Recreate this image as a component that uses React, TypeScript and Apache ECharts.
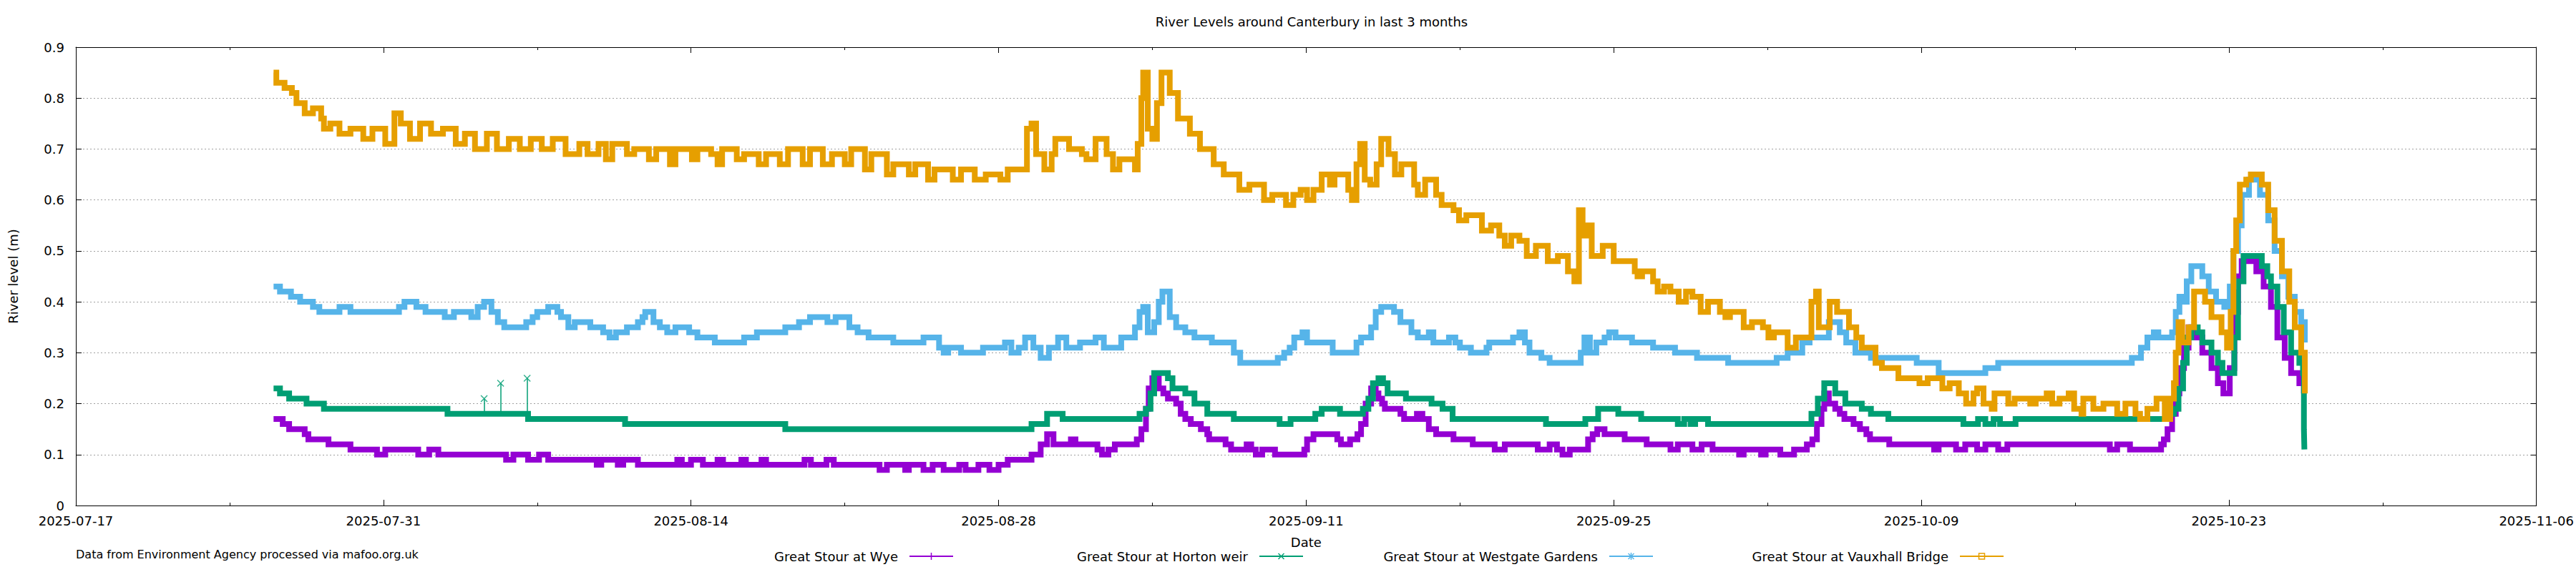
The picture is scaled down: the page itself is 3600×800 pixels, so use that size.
import React, { useEffect, useRef } from "react";
import * as echarts from "echarts";

const TITLE = "River Levels around Canterbury in last 3 months";
const X_AXIS_NAME = "Date";
const Y_AXIS_NAME = "River level (m)";
const FOOTER = "Data from Environment Agency processed via mafoo.org.uk";
const AXIS_DAYS = 112; // 2025-07-17 .. 2025-11-06
const TICK_DAYS = 14;
const Y_MAX = 0.9;
const Y_STEP = 0.1;
const SERIES_NAMES = [
  "Great Stour at Wye",
  "Great Stour at Horton weir",
  "Great Stour at Westgate Gardens",
  "Great Stour at Vauxhall Bridge",
];
const SERIES_COLORS = ["#9400d3", "#009e73", "#56b4e9", "#e69f00"];

type Reading = [string, number];

// readings: "MM-DD HH[:MM]" (2025) and level in metres, at each change of level
const wye: Reading[] = [
  ["07-26 00", 0.17], ["07-26 10", 0.16], ["07-26 17", 0.15], ["07-27 10", 0.14], ["07-27 14", 0.13],
  ["07-28 12", 0.12], ["07-29 12", 0.11], ["07-30 17", 0.10], ["07-31 02", 0.11], ["08-01 14", 0.10],
  ["08-02 02", 0.11], ["08-02 12", 0.10], ["08-05 14", 0.09], ["08-05 22", 0.10], ["08-06 14", 0.09],
  ["08-07 02", 0.10], ["08-07 12", 0.09], ["08-09 17", 0.08], ["08-09 22", 0.09], ["08-10 16", 0.08],
  ["08-10 22", 0.09], ["08-11 14", 0.08], ["08-13 09", 0.09], ["08-13 14", 0.08], ["08-14 00", 0.09],
  ["08-14 13", 0.08], ["08-15 05", 0.09], ["08-15 11", 0.08], ["08-16 07", 0.09], ["08-16 12", 0.08],
  ["08-17 05", 0.09], ["08-17 10", 0.08], ["08-19 04", 0.09], ["08-19 11", 0.08], ["08-20 04", 0.09],
  ["08-20 12", 0.08], ["08-22 14", 0.07], ["08-22 22", 0.08], ["08-23 18", 0.07], ["08-23 22", 0.08],
  ["08-24 14", 0.07], ["08-25 00", 0.08], ["08-25 12", 0.07], ["08-26 05", 0.08], ["08-26 12", 0.07],
  ["08-27 02", 0.08], ["08-27 14", 0.07], ["08-28 00", 0.08], ["08-28 10", 0.09], ["08-29 12", 0.10],
  ["08-29 22", 0.12], ["08-30 05", 0.14], ["08-30 12", 0.12], ["08-31 07", 0.13], ["08-31 12", 0.12],
  ["09-01 12", 0.11], ["09-01 17", 0.10], ["09-02 00", 0.11], ["09-02 07", 0.12], ["09-03 07", 0.13],
  ["09-03 12", 0.15], ["09-03 17", 0.19], ["09-03 20", 0.23], ["09-04 00", 0.25], ["09-04 07", 0.23],
  ["09-04 12", 0.22], ["09-04 17", 0.21], ["09-05 02", 0.20], ["09-05 07", 0.18], ["09-05 12", 0.17],
  ["09-05 18", 0.16], ["09-06 05", 0.15], ["09-06 12", 0.14], ["09-06 14", 0.13], ["09-07 08", 0.12],
  ["09-07 14", 0.11], ["09-08 07", 0.12], ["09-08 12", 0.11], ["09-08 17", 0.10], ["09-09 00", 0.11],
  ["09-09 14", 0.10], ["09-10 22", 0.11], ["09-11 01", 0.13], ["09-11 08", 0.14], ["09-12 10", 0.13],
  ["09-12 14", 0.12], ["09-13 00", 0.13], ["09-13 08", 0.14], ["09-13 12", 0.16], ["09-13 17", 0.20],
  ["09-13 23", 0.23], ["09-14 04", 0.22], ["09-14 07", 0.21], ["09-14 11", 0.20], ["09-14 14", 0.19],
  ["09-15 07", 0.18], ["09-15 11", 0.17], ["09-16 01", 0.18], ["09-16 07", 0.17], ["09-16 14", 0.15],
  ["09-16 22", 0.14], ["09-17 17", 0.13], ["09-18 14", 0.12], ["09-19 14", 0.11], ["09-20 01", 0.12],
  ["09-21 13", 0.11], ["09-22 02", 0.12], ["09-22 10", 0.11], ["09-22 16", 0.10], ["09-23 00", 0.11],
  ["09-23 20", 0.13], ["09-24 01", 0.14], ["09-24 06", 0.15], ["09-24 14", 0.14], ["09-25 12", 0.13],
  ["09-26 12", 0.12], ["09-27 14", 0.11], ["09-27 22", 0.12], ["09-28 14", 0.11], ["09-29 00", 0.12],
  ["09-29 12", 0.11], ["09-30 17", 0.10], ["09-30 22", 0.11], ["10-01 17", 0.10], ["10-01 22", 0.11],
  ["10-02 14", 0.10], ["10-03 05", 0.11], ["10-03 19", 0.12], ["10-04 01", 0.13], ["10-04 06", 0.16],
  ["10-04 11", 0.19], ["10-04 14", 0.22], ["10-04 19", 0.20], ["10-05 02", 0.19], ["10-05 07", 0.18],
  ["10-05 12", 0.17], ["10-05 22", 0.16], ["10-06 05", 0.15], ["10-06 12", 0.14], ["10-06 16", 0.13],
  ["10-07 13", 0.12], ["10-09 14", 0.11], ["10-09 19", 0.12], ["10-10 14", 0.11], ["10-11 00", 0.12],
  ["10-11 13", 0.11], ["10-11 22", 0.12], ["10-12 12", 0.11], ["10-12 22", 0.12], ["10-17 14", 0.11],
  ["10-17 22", 0.12], ["10-18 12", 0.11], ["10-19 22", 0.12], ["10-20 01", 0.13], ["10-20 05", 0.15],
  ["10-20 10", 0.18], ["10-20 14", 0.22], ["10-20 18", 0.27], ["10-20 23", 0.31], ["10-21 04", 0.35],
  ["10-21 10", 0.33], ["10-21 19", 0.30], ["10-22 05", 0.27], ["10-22 12", 0.24], ["10-22 18", 0.22],
  ["10-23 01", 0.27], ["10-23 06", 0.38], ["10-23 10", 0.45], ["10-23 14", 0.48], ["10-24 06", 0.46],
  ["10-24 14", 0.43], ["10-24 22", 0.39], ["10-25 05", 0.33], ["10-25 13", 0.29], ["10-25 20", 0.26],
  ["10-26 05", 0.24], ["10-26 10", 0.22],
];

const hortonWeir: Reading[] = [
  ["07-26 00", 0.23], ["07-26 07", 0.22], ["07-26 17", 0.21], ["07-27 12", 0.20], ["07-28 07", 0.19],
  ["08-02 22", 0.18], ["08-06 14", 0.17], ["08-11 00", 0.16], ["08-18 07", 0.15], ["08-29 12", 0.16],
  ["08-30 05", 0.18], ["08-30 22", 0.17], ["09-03 10", 0.18], ["09-03 17", 0.19], ["09-03 22", 0.22],
  ["09-04 02", 0.26], ["09-04 17", 0.25], ["09-04 22", 0.23], ["09-05 12", 0.22], ["09-05 22", 0.20],
  ["09-06 12", 0.18], ["09-07 17", 0.17], ["09-09 19", 0.16], ["09-10 07", 0.17], ["09-11 10", 0.18],
  ["09-11 17", 0.19], ["09-12 13", 0.18], ["09-13 14", 0.19], ["09-13 20", 0.21], ["09-14 01", 0.24],
  ["09-14 07", 0.25], ["09-14 12", 0.24], ["09-14 17", 0.22], ["09-15 13", 0.21], ["09-16 17", 0.20],
  ["09-17 05", 0.19], ["09-17 16", 0.17], ["09-21 22", 0.16], ["09-23 17", 0.17], ["09-24 07", 0.19],
  ["09-25 05", 0.18], ["09-26 06", 0.17], ["09-27 22", 0.16], ["09-28 05", 0.17], ["09-28 12", 0.16],
  ["09-28 17", 0.17], ["09-29 07", 0.16], ["10-04 00", 0.18], ["10-04 07", 0.21], ["10-04 14", 0.24],
  ["10-05 02", 0.22], ["10-05 13", 0.20], ["10-06 07", 0.19], ["10-06 17", 0.18], ["10-07 12", 0.17],
  ["10-10 22", 0.16], ["10-11 14", 0.17], ["10-11 22", 0.16], ["10-12 07", 0.17], ["10-12 14", 0.16],
  ["10-13 07", 0.17], ["10-20 07", 0.18], ["10-20 12", 0.19], ["10-20 17", 0.23], ["10-20 22", 0.28],
  ["10-21 02", 0.33], ["10-21 07", 0.35], ["10-21 14", 0.34], ["10-21 19", 0.32], ["10-22 05", 0.30],
  ["10-22 12", 0.28], ["10-22 17", 0.26], ["10-23 06", 0.33], ["10-23 10", 0.44], ["10-23 16", 0.49],
  ["10-24 12", 0.47], ["10-24 18", 0.45], ["10-24 22", 0.43], ["10-25 05", 0.39], ["10-25 12", 0.34],
  ["10-25 20", 0.30], ["10-26 05", 0.28], ["10-26 09", 0.26], ["10-26 10", 0.15], ["10-26 10:30", 0.11],
];

// isolated one-reading spikes at Horton weir: time, level before, spike level
const hortonSpikes: [string, number, number][] = [
  ["08-04 14", 0.18, 0.21],
  ["08-05 08", 0.18, 0.24],
  ["08-06 13", 0.18, 0.25],
];

const westgateGardens: Reading[] = [
  ["07-26 00", 0.43], ["07-26 07", 0.42], ["07-26 19", 0.41], ["07-27 05", 0.40], ["07-27 19", 0.39],
  ["07-28 02", 0.38], ["07-29 00", 0.39], ["07-29 12", 0.38], ["07-31 17", 0.39], ["07-31 23", 0.40],
  ["08-01 12", 0.39], ["08-01 22", 0.38], ["08-02 19", 0.37], ["08-03 05", 0.38], ["08-04 00", 0.37],
  ["08-04 07", 0.39], ["08-04 14", 0.40], ["08-04 22", 0.38], ["08-05 05", 0.36], ["08-05 12", 0.35],
  ["08-06 12", 0.36], ["08-06 19", 0.37], ["08-07 00", 0.38], ["08-07 12", 0.39], ["08-07 22", 0.38],
  ["08-08 02", 0.37], ["08-08 10", 0.35], ["08-08 17", 0.36], ["08-09 10", 0.35], ["08-10 00", 0.34],
  ["08-10 07", 0.33], ["08-10 14", 0.34], ["08-11 02", 0.35], ["08-11 14", 0.36], ["08-11 19", 0.37],
  ["08-11 22", 0.38], ["08-12 07", 0.36], ["08-12 14", 0.35], ["08-12 22", 0.34], ["08-13 07", 0.35],
  ["08-13 22", 0.34], ["08-14 07", 0.33], ["08-15 02", 0.32], ["08-16 10", 0.33], ["08-17 00", 0.34],
  ["08-18 07", 0.35], ["08-18 22", 0.36], ["08-19 10", 0.37], ["08-20 05", 0.36], ["08-20 14", 0.37],
  ["08-21 05", 0.35], ["08-21 14", 0.34], ["08-22 02", 0.33], ["08-23 05", 0.32], ["08-24 14", 0.33],
  ["08-25 07", 0.31], ["08-25 12", 0.30], ["08-25 17", 0.31], ["08-26 07", 0.30], ["08-27 07", 0.31],
  ["08-28 07", 0.32], ["08-28 14", 0.30], ["08-28 22", 0.31], ["08-29 05", 0.33], ["08-29 14", 0.31],
  ["08-29 22", 0.29], ["08-30 07", 0.31], ["08-30 17", 0.33], ["08-31 02", 0.31], ["08-31 17", 0.32],
  ["09-01 10", 0.33], ["09-01 19", 0.31], ["09-02 14", 0.33], ["09-03 05", 0.35], ["09-03 10", 0.38],
  ["09-03 14", 0.39], ["09-03 19", 0.34], ["09-04 02", 0.36], ["09-04 07", 0.40], ["09-04 11", 0.42],
  ["09-04 19", 0.37], ["09-05 02", 0.35], ["09-05 12", 0.34], ["09-05 22", 0.33], ["09-06 17", 0.32],
  ["09-07 17", 0.30], ["09-08 00", 0.28], ["09-09 17", 0.29], ["09-10 00", 0.30], ["09-10 06", 0.31],
  ["09-10 11", 0.33], ["09-10 20", 0.34], ["09-11 01", 0.32], ["09-12 05", 0.30], ["09-13 07", 0.32],
  ["09-13 12", 0.33], ["09-13 23", 0.35], ["09-14 04", 0.38], ["09-14 10", 0.39], ["09-15 00", 0.38],
  ["09-15 07", 0.36], ["09-15 19", 0.34], ["09-16 02", 0.33], ["09-16 14", 0.34], ["09-16 19", 0.32],
  ["09-17 12", 0.33], ["09-17 19", 0.32], ["09-18 00", 0.31], ["09-18 12", 0.30], ["09-19 05", 0.31],
  ["09-19 08", 0.32], ["09-20 10", 0.33], ["09-20 17", 0.34], ["09-20 23", 0.32], ["09-21 04", 0.30],
  ["09-21 17", 0.29], ["09-22 02", 0.28], ["09-23 12", 0.30], ["09-23 16", 0.33], ["09-23 22", 0.30],
  ["09-24 05", 0.32], ["09-24 14", 0.33], ["09-24 19", 0.34], ["09-25 02", 0.33], ["09-25 20", 0.32],
  ["09-26 19", 0.31], ["09-27 19", 0.30], ["09-28 19", 0.29], ["09-30 05", 0.28], ["10-02 10", 0.29],
  ["10-02 22", 0.30], ["10-03 14", 0.32], ["10-03 22", 0.33], ["10-04 19", 0.36], ["10-05 07", 0.34],
  ["10-05 14", 0.32], ["10-06 00", 0.30], ["10-06 17", 0.29], ["10-08 19", 0.28], ["10-09 19", 0.26],
  ["10-11 22", 0.27], ["10-12 12", 0.28], ["10-18 14", 0.29], ["10-19 00", 0.31], ["10-19 07", 0.33],
  ["10-19 14", 0.34], ["10-19 19", 0.33], ["10-20 10", 0.34], ["10-20 14", 0.38], ["10-20 18", 0.41],
  ["10-20 23", 0.40], ["10-21 02", 0.44], ["10-21 07", 0.47], ["10-21 19", 0.45], ["10-22 02", 0.42],
  ["10-22 10", 0.40], ["10-22 19", 0.39], ["10-23 01", 0.43], ["10-23 05", 0.50], ["10-23 10", 0.55],
  ["10-23 14", 0.61], ["10-23 22", 0.64], ["10-24 10", 0.61], ["10-24 19", 0.56], ["10-25 02", 0.50],
  ["10-25 10", 0.45], ["10-25 17", 0.41], ["10-26 00", 0.38], ["10-26 07", 0.36], ["10-26 11", 0.32],
];

const vauxhallBridge: Reading[] = [
  ["07-26 00", 0.85], ["07-26 03", 0.83], ["07-26 12", 0.82], ["07-26 20", 0.81], ["07-27 01", 0.79],
  ["07-27 10", 0.77], ["07-27 19", 0.78], ["07-28 04", 0.76], ["07-28 07", 0.74], ["07-28 14", 0.75],
  ["07-29 00", 0.73], ["07-29 12", 0.74], ["07-30 02", 0.72], ["07-30 12", 0.74], ["07-31 02", 0.71],
  ["07-31 12", 0.77], ["07-31 19", 0.75], ["08-01 05", 0.72], ["08-01 16", 0.75], ["08-02 04", 0.73],
  ["08-02 17", 0.74], ["08-03 07", 0.71], ["08-03 17", 0.73], ["08-04 04", 0.70], ["08-04 17", 0.73],
  ["08-05 04", 0.70], ["08-05 17", 0.72], ["08-06 05", 0.70], ["08-06 17", 0.72], ["08-07 05", 0.70],
  ["08-07 17", 0.72], ["08-08 07", 0.69], ["08-08 22", 0.71], ["08-09 07", 0.69], ["08-09 19", 0.71],
  ["08-10 03", 0.68], ["08-10 10", 0.71], ["08-11 02", 0.69], ["08-11 10", 0.70], ["08-12 02", 0.68],
  ["08-12 10", 0.70], ["08-13 01", 0.67], ["08-13 07", 0.70], ["08-14 01", 0.68], ["08-14 07", 0.70],
  ["08-14 22", 0.69], ["08-15 05", 0.67], ["08-15 10", 0.70], ["08-16 02", 0.68], ["08-16 10", 0.69],
  ["08-17 02", 0.67], ["08-17 10", 0.69], ["08-18 01", 0.67], ["08-18 10", 0.70], ["08-19 02", 0.67],
  ["08-19 10", 0.70], ["08-20 00", 0.67], ["08-20 10", 0.69], ["08-21 00", 0.67], ["08-21 07", 0.70],
  ["08-21 22", 0.66], ["08-22 05", 0.69], ["08-22 22", 0.65], ["08-23 05", 0.67], ["08-23 22", 0.65],
  ["08-24 05", 0.67], ["08-24 19", 0.64], ["08-25 02", 0.66], ["08-25 22", 0.64], ["08-26 07", 0.66],
  ["08-26 22", 0.64], ["08-27 10", 0.65], ["08-28 02", 0.64], ["08-28 10", 0.66], ["08-29 07", 0.74],
  ["08-29 12", 0.75], ["08-29 17", 0.69], ["08-30 02", 0.66], ["08-30 10", 0.69], ["08-30 14", 0.72],
  ["08-31 05", 0.70], ["08-31 19", 0.69], ["09-01 00", 0.68], ["09-01 10", 0.72], ["09-01 22", 0.69],
  ["09-02 05", 0.66], ["09-02 12", 0.68], ["09-03 05", 0.66], ["09-03 08", 0.71], ["09-03 12", 0.80],
  ["09-03 14", 0.85], ["09-03 19", 0.74], ["09-04 00", 0.72], ["09-04 05", 0.79], ["09-04 10", 0.85],
  ["09-04 19", 0.81], ["09-05 04", 0.76], ["09-05 17", 0.73], ["09-06 04", 0.70], ["09-06 19", 0.67],
  ["09-07 06", 0.65], ["09-07 23", 0.62], ["09-08 10", 0.63], ["09-09 02", 0.60], ["09-09 11", 0.61],
  ["09-10 02", 0.59], ["09-10 10", 0.61], ["09-10 18", 0.62], ["09-11 01", 0.60], ["09-11 08", 0.62],
  ["09-11 17", 0.65], ["09-12 02", 0.63], ["09-12 07", 0.65], ["09-12 22", 0.62], ["09-13 02", 0.60],
  ["09-13 07", 0.67], ["09-13 11", 0.71], ["09-13 16", 0.64], ["09-13 22", 0.63], ["09-14 05", 0.67],
  ["09-14 10", 0.72], ["09-14 18", 0.69], ["09-15 01", 0.65], ["09-15 08", 0.67], ["09-15 22", 0.63],
  ["09-16 02", 0.61], ["09-16 10", 0.64], ["09-16 22", 0.61], ["09-17 04", 0.59], ["09-17 17", 0.58],
  ["09-17 23", 0.56], ["09-18 07", 0.57], ["09-19 00", 0.54], ["09-19 10", 0.55], ["09-19 19", 0.53],
  ["09-20 01", 0.51], ["09-20 08", 0.53], ["09-20 17", 0.52], ["09-21 01", 0.49], ["09-21 11", 0.51],
  ["09-22 00", 0.48], ["09-22 11", 0.49], ["09-22 22", 0.46], ["09-23 05", 0.44], ["09-23 10", 0.58],
  ["09-23 14", 0.53], ["09-23 20", 0.55], ["09-24 00", 0.49], ["09-24 12", 0.51], ["09-25 00", 0.48],
  ["09-25 23", 0.46], ["09-26 02", 0.45], ["09-26 07", 0.46], ["09-26 19", 0.44], ["09-27 00", 0.42],
  ["09-27 07", 0.43], ["09-27 14", 0.42], ["09-27 23", 0.40], ["09-28 07", 0.42], ["09-28 14", 0.41],
  ["09-28 23", 0.38], ["09-29 07", 0.40], ["09-29 20", 0.38], ["09-30 02", 0.37], ["09-30 07", 0.38],
  ["09-30 22", 0.35], ["10-01 07", 0.36], ["10-01 19", 0.35], ["10-02 01", 0.33], ["10-02 07", 0.34],
  ["10-02 22", 0.31], ["10-03 07", 0.33], ["10-04 00", 0.40], ["10-04 05", 0.42], ["10-04 08", 0.35],
  ["10-04 20", 0.40], ["10-05 04", 0.38], ["10-05 17", 0.35], ["10-06 01", 0.33], ["10-06 07", 0.31],
  ["10-06 22", 0.28], ["10-07 05", 0.27], ["10-07 23", 0.25], ["10-08 22", 0.24], ["10-09 07", 0.25],
  ["10-09 23", 0.23], ["10-10 07", 0.24], ["10-10 17", 0.22], ["10-11 01", 0.20], ["10-11 09", 0.22],
  ["10-11 13", 0.23], ["10-11 20", 0.20], ["10-12 05", 0.19], ["10-12 08", 0.22], ["10-12 23", 0.20],
  ["10-13 06", 0.21], ["10-13 23", 0.20], ["10-14 05", 0.21], ["10-14 17", 0.22], ["10-14 23", 0.20],
  ["10-15 07", 0.21], ["10-15 17", 0.22], ["10-15 23", 0.19], ["10-16 07", 0.18], ["10-16 09", 0.21],
  ["10-16 20", 0.19], ["10-17 07", 0.20], ["10-17 22", 0.18], ["10-18 07", 0.20], ["10-18 18", 0.18],
  ["10-18 23", 0.17], ["10-19 07", 0.19], ["10-19 17", 0.21], ["10-20 02", 0.17], ["10-20 08", 0.21],
  ["10-20 12", 0.24], ["10-20 14", 0.30], ["10-20 17", 0.36], ["10-20 21", 0.32], ["10-21 04", 0.35],
  ["10-21 10", 0.42], ["10-21 22", 0.40], ["10-22 05", 0.37], ["10-22 16", 0.34], ["10-22 22", 0.31],
  ["10-23 02", 0.38], ["10-23 05", 0.50], ["10-23 08", 0.56], ["10-23 12", 0.63], ["10-23 19", 0.64],
  ["10-24 00", 0.65], ["10-24 12", 0.63], ["10-24 19", 0.58], ["10-25 02", 0.52], ["10-25 10", 0.46],
  ["10-25 18", 0.40], ["10-26 00", 0.35], ["10-26 07", 0.30], ["10-26 11", 0.22],
];

const SERIES_DATA = [wye, hortonWeir, westgateGardens, vauxhallBridge];

const FONT = "DejaVu Sans";
const BASE = Date.UTC(2025, 6, 17);

function toDay(s: string): number {
  const [md, hm] = s.split(" ");
  const [m, d] = md.split("-").map(Number);
  const [h, mi] = (hm || "0").split(":").map(Number);
  return (Date.UTC(2025, m - 1, d, h, mi || 0) - BASE) / 864e5;
}

function dayLabel(v: number): string {
  const dt = new Date(BASE + Math.round(v) * 864e5);
  const mm = String(dt.getUTCMonth() + 1).padStart(2, "0");
  const dd = String(dt.getUTCDate()).padStart(2, "0");
  return `${dt.getUTCFullYear()}-${mm}-${dd}`;
}

// legend layout (pixels)
const LEGEND_Y = 778;
const LEGEND_LINE_END = [1332, 1821, 2310, 2800];
const LEGEND_LINE_LEN = 61;
const LEGEND_TEXT_GAP = 16;

function markerShapes(kind: number, cx: number, cy: number, color: string): any[] {
  const st = { stroke: color, lineWidth: 1.5 };
  const ln = (x1: number, y1: number, x2: number, y2: number) => ({
    type: "line",
    shape: { x1, y1, x2, y2 },
    style: st,
  });
  if (kind === 0) return [ln(cx - 5, cy, cx + 5, cy), ln(cx, cy - 5, cx, cy + 5)];
  if (kind === 1) return [ln(cx - 4, cy - 4, cx + 4, cy + 4), ln(cx - 4, cy + 4, cx + 4, cy - 4)];
  if (kind === 2)
    return [
      ln(cx - 5, cy, cx + 5, cy),
      ln(cx, cy - 5, cx, cy + 5),
      ln(cx - 4, cy - 4, cx + 4, cy + 4),
      ln(cx - 4, cy + 4, cx + 4, cy - 4),
    ];
  return [
    {
      type: "rect",
      shape: { x: cx - 4, y: cy - 4, width: 8, height: 8 },
      style: { stroke: color, fill: "none", lineWidth: 1.5 },
    },
  ];
}

function buildOption() {
  const axisLineStyle = { color: "#000", width: 1 };
  const labelStyle = { fontFamily: FONT, fontSize: 18, color: "#000" };

  const series: any[] = SERIES_DATA.map((rows, i) => ({
    type: "line",
    name: SERIES_NAMES[i],
    data: rows.map(([t, v]) => [toDay(t), v]),
    step: "end",
    showSymbol: false,
    symbol: "none",
    xAxisIndex: 0,
    yAxisIndex: 0,
    z: 2 + i,
    lineStyle: { color: SERIES_COLORS[i], width: 8, join: "miter" },
    itemStyle: { color: SERIES_COLORS[i] },
    silent: true,
  }));

  series.push({
    type: "scatter",
    name: "Horton spikes",
    data: hortonSpikes.map(([t, , top]) => [toDay(t), top]),
    symbol: "path://M0,0L10,10M10,0L0,10",
    symbolSize: 9,
    itemStyle: { color: "transparent", borderColor: SERIES_COLORS[1], borderWidth: 1.5 },
    z: 3,
    silent: true,
    markLine: {
      silent: true,
      symbol: ["none", "none"],
      label: { show: false },
      lineStyle: { color: SERIES_COLORS[1], width: 1.5, type: "solid" },
      data: hortonSpikes.map(([t, base, top]) => [
        { coord: [toDay(t), base] },
        { coord: [toDay(t), top] },
      ]),
    },
  });

  const graphic: any[] = [
    {
      type: "text",
      x: 1833,
      y: 30,
      style: { text: TITLE, font: `18px "${FONT}"`, fill: "#000", align: "center", verticalAlign: "middle" },
    },
    {
      type: "text",
      x: 106,
      y: 775,
      style: { text: FOOTER, font: `16px "${FONT}"`, fill: "#000", align: "left", verticalAlign: "middle" },
    },
  ];
  SERIES_NAMES.forEach((name, i) => {
    const x2 = LEGEND_LINE_END[i];
    const x1 = x2 - LEGEND_LINE_LEN;
    const color = SERIES_COLORS[i];
    graphic.push({
      type: "text",
      x: x1 - LEGEND_TEXT_GAP,
      y: LEGEND_Y,
      style: { text: name, font: `18px "${FONT}"`, fill: "#000", align: "right", verticalAlign: "middle" },
    });
    graphic.push({
      type: "line",
      shape: { x1, y1: LEGEND_Y, x2, y2: LEGEND_Y },
      style: { stroke: color, lineWidth: 2 },
    });
    markerShapes(i, (x1 + x2) / 2, LEGEND_Y, color).forEach((g) => graphic.push(g));
  });

  const xCommon = {
    type: "value",
    min: 0,
    max: AXIS_DAYS,
    interval: TICK_DAYS,
    axisLine: { show: true, onZero: false, lineStyle: axisLineStyle },
    axisTick: { show: true, inside: true, length: 8, lineStyle: axisLineStyle },
    minorTick: { show: true, splitNumber: 2, length: 4, lineStyle: axisLineStyle },
    splitLine: { show: false },
    minorSplitLine: { show: false },
  };
  const yCommon = {
    type: "value",
    min: 0,
    max: Y_MAX,
    interval: Y_STEP,
    axisLine: { show: true, onZero: false, lineStyle: axisLineStyle },
    axisTick: { show: true, inside: true, length: 8, lineStyle: axisLineStyle },
  };

  return {
    animation: false,
    backgroundColor: "#fff",
    grid: { left: 106, right: 39, top: 66, bottom: 93, containLabel: false },
    xAxis: [
      {
        ...xCommon,
        position: "bottom",
        axisLabel: {
          ...labelStyle,
          margin: 12,
          showMinLabel: true,
          showMaxLabel: true,
          formatter: (v: number) => dayLabel(v),
        },
        name: X_AXIS_NAME,
        nameLocation: "middle",
        nameGap: 42,
        nameTextStyle: labelStyle,
      },
      { ...xCommon, position: "top", axisLabel: { show: false } },
    ],
    yAxis: [
      {
        ...yCommon,
        position: "left",
        axisLabel: {
          ...labelStyle,
          margin: 16,
          formatter: (v: number) => String(Math.round(v * 10) / 10),
        },
        splitLine: { show: true, lineStyle: { color: "#a0a0a0", width: 1, type: [2, 3] } },
        name: Y_AXIS_NAME,
        nameLocation: "middle",
        nameRotate: 90,
        nameGap: 79,
        nameTextStyle: labelStyle,
      },
      {
        ...yCommon,
        position: "right",
        axisLabel: { show: false },
        splitLine: { show: false },
      },
    ],
    series,
    graphic,
  };
}

export default function App() {
  const ref = useRef<HTMLDivElement>(null);
  useEffect(() => {
    document.body.style.margin = "0";
    if (!ref.current) return;
    const chart = echarts.init(ref.current, undefined, { renderer: "svg" });
    chart.setOption(buildOption() as any);
    return () => chart.dispose();
  }, []);
  return <div ref={ref} style={{ width: 3600, height: 800 }} />;
}
